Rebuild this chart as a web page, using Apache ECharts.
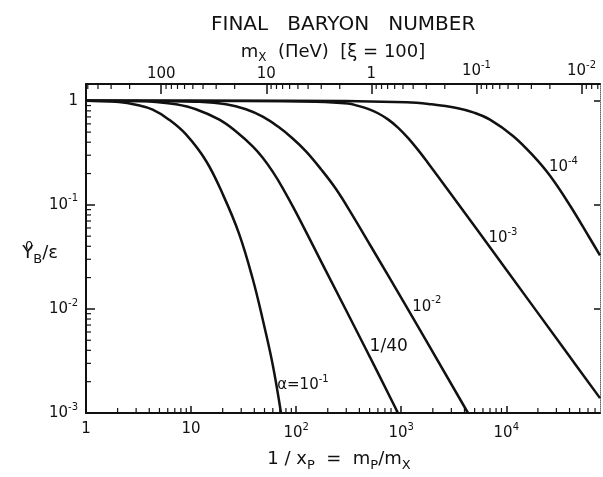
<!DOCTYPE html>
<html>
<head>
<meta charset="utf-8">
<title>Final baryon number</title>
<script src="https://cdn.jsdelivr.net/npm/echarts@6/dist/echarts.min.js"></script>
<style>
  html, body { margin: 0; padding: 0; background: #fff; }
  #main { width: 603px; height: 477px; }
</style>
</head>
<body>
<div id="main"></div>
<script>
// 1/x_p (bottom axis) and Y_B^0/eps for each alpha
var xAlpha1 = [1, 2.06, 2.99, 4.31, 6.17, 8.95, 13.9, 20, 28.6, 38.6, 48.1, 59.8, 71.8];
var yAlpha1 = [1, 0.972, 0.916, 0.821, 0.659, 0.475, 0.264, 0.127, 0.053, 0.0195, 0.0079, 0.00293, 0.001];

var xAlpha40 = [1, 2.99, 4.64, 7.19, 11.1, 18.6, 26.8, 38.6, 48.1, 59.8, 74.5, 99.7, 192, 462, 932];
var yAlpha40 = [1, 0.993, 0.974, 0.926, 0.83, 0.659, 0.507, 0.365, 0.2835, 0.2085, 0.1452, 0.0847, 0.0232, 0.0041, 0.001];

var xAlpha2 = [1, 5.77, 11.1, 21.5, 33.3, 48.1, 67.2, 92.7, 124.1, 172.4, 239.5, 332.8, 515.8, 1110, 4323];
var yAlpha2 = [1, 0.993, 0.98, 0.926, 0.83, 0.704, 0.565, 0.4345, 0.327, 0.2203, 0.142, 0.0839, 0.0398, 0.0107, 0.001];

var xAlpha3 = [1, 26.8, 154.5, 311.6, 387.9, 483, 601.3, 748.6, 932.1, 1160, 1445, 1799, 2788, 9938, 37020, 78000];
var yAlpha3 = [1, 0.996, 0.978, 0.9405, 0.895, 0.8363, 0.7592, 0.6631, 0.5527, 0.4398, 0.3376, 0.2529, 0.139, 0.02405, 0.0039, 0.00139];

var xAlpha4 = [1, 80, 1128, 1920, 3375, 4930, 7000, 11670, 18100, 26100, 40400, 62600, 78000];
var yAlpha4 = [1, 1, 0.968, 0.926, 0.852, 0.769, 0.659, 0.457, 0.295, 0.19, 0.0986, 0.0475, 0.0327];

var xTicks = [1, 10, 100, 1000, 10000];
var yTicks = [0.001, 0.01, 0.1, 1];
var mxTicks = [100, 10, 1, 0.1, 0.01];

var XMAX = 78000;
var YMIN = 0.001;
var YMAX = 1.45;
var MP = 520; // m_X = MP / (1/x_p) on the top scale

var FONT = 'DejaVu Sans';
var INK = '#111';

function pairs(xs, ys) {
  return xs.map(function (x, i) { return [x, ys[i]]; });
}

// 2..9 times each decade, inside (lo, hi)
function minorTicks(lo, hi) {
  var out = [];
  for (var e = -4; e <= 5; e++) {
    for (var k = 2; k <= 9; k++) {
      var v = +(k * Math.pow(10, e)).toPrecision(3);
      if (v > lo && v < hi) out.push(v);
    }
  }
  return out;
}

// "1", "10", "100", or 10 with a superscript power
function powLabel(v, plain100) {
  var e = Math.round(Math.log10(v));
  if (e === 0) return '1';
  if (e === 1) return '10';
  if (e === 2 && plain100) return '100';
  return '{b|10}{s|' + e + '}';
}

var labelRich = {
  b: { fontFamily: FONT, fontSize: 15, color: INK, lineHeight: 22 },
  c: { fontFamily: FONT, fontSize: 17, color: INK, lineHeight: 22 },
  s: { fontFamily: FONT, fontSize: 10, color: INK, lineHeight: 11, verticalAlign: 'top' }
};

var nameRich = {
  b: { fontFamily: FONT, fontSize: 18, color: INK, lineHeight: 26 },
  u: { fontFamily: FONT, fontSize: 13, color: INK, lineHeight: 13, verticalAlign: 'top', width: 0 },
  d: { fontFamily: FONT, fontSize: 13, color: INK, lineHeight: 13, verticalAlign: 'bottom' }
};

var lineStyle = { color: INK, width: 2 };

function curve(name, xs, ys, at, text) {
  return {
    name: name,
    type: 'line',
    data: pairs(xs, ys),
    symbol: 'none',
    smooth: 0.4,
    lineStyle: { color: INK, width: 2.5 },
    z: 5,
    markPoint: {
      symbol: 'circle',
      symbolSize: 0,
      data: [{ coord: at }],
      label: {
        show: true,
        position: 'inside',
        formatter: text,
        rich: labelRich
      }
    }
  };
}

// short minor ticks along a frame edge, placed through the axes' own scales
// dx, dy: pixel direction the tick points into the plot
function tickSeries(points, dx, dy) {
  return {
    type: 'custom',
    data: points,
    silent: true,
    z: 4,
    renderItem: function (params, api) {
      var p = api.coord([api.value(0), api.value(1)]);
      return {
        type: 'line',
        shape: { x1: p[0], y1: p[1], x2: p[0] + dx, y2: p[1] + dy },
        style: { stroke: INK, lineWidth: 1.2 }
      };
    }
  };
}

var bottomMinor = minorTicks(1, XMAX).map(function (v) { return [v, YMIN]; });
var topMinor = minorTicks(MP / XMAX, MP).map(function (m) { return [MP / m, YMAX]; });
var leftMinor = minorTicks(YMIN, YMAX).map(function (v) { return [1, v]; });

var chart = echarts.init(document.getElementById('main'));

var option = {
  animation: false,
  backgroundColor: '#fff',
  title: {
    text: 'FINAL   BARYON   NUMBER',
    left: 206,
    top: 10,
    textStyle: { fontFamily: FONT, fontSize: 20, fontWeight: 'normal', color: INK }
  },
  grid: { left: 86, right: 3, top: 84, bottom: 61 },
  xAxis: [
    {
      type: 'log', position: 'bottom', min: 1, max: XMAX,
      axisLine: { lineStyle: lineStyle },
      axisTick: { inside: true, length: 7, customValues: xTicks, lineStyle: { color: INK, width: 1.5 } },
      axisLabel: {
        customValues: xTicks, margin: 9,
        formatter: function (v) { return powLabel(v, false); },
        rich: labelRich, fontFamily: FONT, fontSize: 15, color: INK
      },
      splitLine: { show: false },
      name: '{b|1 / x}{d|P}{b|  =  m}{d|P}{b|/m}{d|X}',
      nameLocation: 'middle',
      nameGap: 33,
      nameMoveOverlap: false,
      nameTextStyle: { padding: [0, 8, 0, 0], rich: nameRich }
    },
    {
      type: 'log', position: 'top', min: MP / XMAX, max: MP, inverse: true,
      axisLine: { lineStyle: lineStyle },
      axisTick: { inside: true, length: 10, customValues: mxTicks, lineStyle: { color: INK, width: 1.5 } },
      axisLabel: {
        customValues: mxTicks, margin: 2,
        formatter: function (v) { return powLabel(v, true); },
        rich: labelRich, fontFamily: FONT, fontSize: 15, color: INK
      },
      splitLine: { show: false },
      name: '{b|m}{d|X}{b|  (ΠeV)  [ξ = 100]}',
      nameLocation: 'middle',
      nameGap: 20,
      nameMoveOverlap: false,
      nameTextStyle: {
        padding: [0, 20, 0, 0],
        rich: {
          b: { fontFamily: FONT, fontSize: 18, color: INK, lineHeight: 24 },
          d: { fontFamily: FONT, fontSize: 12, color: INK, lineHeight: 12, verticalAlign: 'bottom' }
        }
      }
    }
  ],
  yAxis: [
    {
      type: 'log', position: 'left', min: YMIN, max: YMAX,
      axisLine: { lineStyle: lineStyle },
      axisTick: { inside: true, length: 9, customValues: yTicks, lineStyle: { color: INK, width: 1.5 } },
      axisLabel: {
        customValues: yTicks, margin: 8,
        formatter: function (v) { return powLabel(v, false); },
        rich: labelRich, fontFamily: FONT, fontSize: 15, color: INK
      },
      splitLine: { show: false },
      name: '{b|Y}{u|0}{d|B}{b|/ε}',
      nameLocation: 'middle',
      nameRotate: 0,
      nameGap: 28,
      nameMoveOverlap: false,
      nameTextStyle: { padding: [10, 0, 0, 0], rich: nameRich }
    },
    {
      type: 'log', position: 'right', min: YMIN, max: YMAX,
      axisLine: { lineStyle: { color: '#666', width: 1, type: 'dotted' } },
      axisTick: { inside: true, length: 6, customValues: yTicks, lineStyle: { color: INK, width: 1.5 } },
      axisLabel: { show: false },
      splitLine: { show: false }
    }
  ],
  series: [
    curve('1e-1', xAlpha1, yAlpha1, [116, 0.00185], '{b|α=10}{s|-1}'),
    curve('1/40', xAlpha40, yAlpha40, [760, 0.0043], '{c|1/40}'),
    curve('1e-2', xAlpha2, yAlpha2, [1750, 0.0105], '{b|10}{s|-2}'),
    curve('1e-3', xAlpha3, yAlpha3, [9300, 0.048], '{b|10}{s|-3}'),
    curve('1e-4', xAlpha4, yAlpha4, [35000, 0.23], '{b|10}{s|-4}'),
    tickSeries(bottomMinor, 0, -5),
    tickSeries(topMinor, 0, 5),
    tickSeries(leftMinor, 5, 0)
  ]
};

chart.setOption(option);
</script>
</body>
</html>
